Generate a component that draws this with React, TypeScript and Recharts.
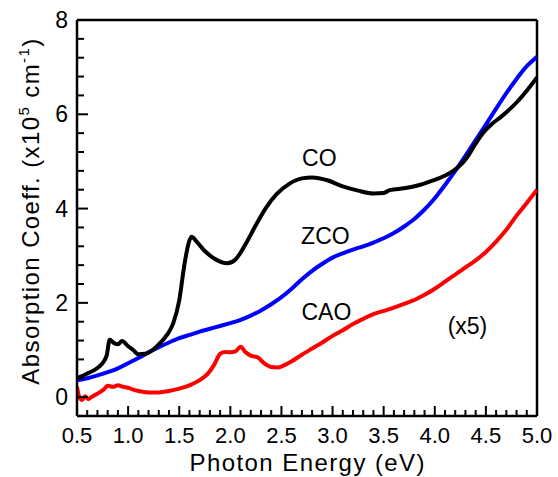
import { LineChart, Line, XAxis, YAxis, ReferenceLine, ReferenceDot } from 'recharts'

// photon energy (eV) / absorption (x10^5 cm^-1)
const coEnergy = [0.5, 0.6, 0.7, 0.76, 0.79, 0.82, 0.86, 0.9, 0.94, 1.0, 1.05, 1.1, 1.17, 1.24, 1.31, 1.38, 1.44, 1.5, 1.55, 1.59, 1.62, 1.67, 1.75, 1.85, 1.97, 2.05, 2.15, 2.25, 2.35, 2.45, 2.58, 2.7, 2.8, 2.95, 3.1, 3.25, 3.4, 3.5, 3.56, 3.7, 3.85, 3.95, 4.08, 4.18, 4.25, 4.32, 4.4, 4.47, 4.55, 4.65, 4.8, 4.9, 5.0]
const coValues = [0.4, 0.5, 0.62, 0.75, 0.88, 1.22, 1.15, 1.12, 1.19, 1.08, 1.0, 0.91, 0.92, 1.0, 1.14, 1.32, 1.56, 2.05, 2.8, 3.25, 3.4, 3.3, 3.1, 2.93, 2.84, 2.92, 3.25, 3.65, 4.02, 4.3, 4.53, 4.64, 4.66, 4.6, 4.47, 4.38, 4.32, 4.33, 4.39, 4.43, 4.5, 4.57, 4.68, 4.8, 4.92, 5.1, 5.38, 5.6, 5.78, 5.95, 6.25, 6.5, 6.78]

const zcoEnergy = [0.5, 0.6, 0.7, 0.8, 0.9, 1.0, 1.1, 1.2, 1.3, 1.4, 1.5, 1.6, 1.7, 1.8, 1.9, 2.0, 2.1, 2.2, 2.3, 2.4, 2.5, 2.6, 2.7, 2.8, 2.9, 3.0, 3.1, 3.2, 3.3, 3.4, 3.5, 3.6, 3.7, 3.8, 3.9, 4.0, 4.1, 4.2, 4.3, 4.4, 4.5, 4.6, 4.7, 4.8, 4.9, 5.0]
const zcoValues = [0.36, 0.4, 0.46, 0.53, 0.61, 0.72, 0.83, 0.95, 1.06, 1.16, 1.25, 1.32, 1.39, 1.45, 1.51, 1.57, 1.64, 1.73, 1.84, 1.97, 2.12, 2.3, 2.5, 2.68, 2.83, 2.96, 3.05, 3.13, 3.2, 3.28, 3.37, 3.48, 3.62, 3.78, 3.98, 4.22, 4.5, 4.8, 5.12, 5.45, 5.78, 6.12, 6.45, 6.75, 7.02, 7.22]

const caoEnergy = [0.5, 0.52, 0.55, 0.58, 0.61, 0.64, 0.68, 0.72, 0.76, 0.8, 0.85, 0.9, 0.95, 1.0, 1.05, 1.1, 1.2, 1.3, 1.4, 1.5, 1.6, 1.7, 1.78, 1.84, 1.9, 1.95, 2.0, 2.05, 2.1, 2.15, 2.2, 2.27, 2.33, 2.4, 2.46, 2.52, 2.6, 2.7, 2.8, 2.9, 3.0, 3.1, 3.2, 3.3, 3.4, 3.5, 3.6, 3.7, 3.8, 3.9, 4.0, 4.1, 4.2, 4.3, 4.4, 4.5, 4.6, 4.7, 4.8, 4.9, 5.0]
const caoValues = [0.22, 0.02, -0.06, 0.02, -0.04, 0.0, 0.05, 0.1, 0.16, 0.24, 0.22, 0.25, 0.22, 0.2, 0.16, 0.13, 0.1, 0.1, 0.13, 0.18, 0.25, 0.36, 0.5, 0.68, 0.92, 0.96, 0.95, 0.97, 1.07, 0.95, 0.88, 0.84, 0.72, 0.64, 0.63, 0.67, 0.76, 0.9, 1.03, 1.16, 1.3, 1.42, 1.55, 1.66, 1.76, 1.83, 1.9, 1.98, 2.06, 2.17, 2.3, 2.45, 2.6, 2.75, 2.9, 3.08, 3.3, 3.55, 3.85, 4.12, 4.4]

const xTicks = [0.5, 0.6, 0.7, 0.8, 0.9, 1.0, 1.1, 1.2, 1.3, 1.4, 1.5, 1.6, 1.7, 1.8, 1.9, 2.0, 2.1, 2.2, 2.3, 2.4, 2.5, 2.6, 2.7, 2.8, 2.9, 3.0, 3.1, 3.2, 3.3, 3.4, 3.5, 3.6, 3.7, 3.8, 3.9, 4.0, 4.1, 4.2, 4.3, 4.4, 4.5, 4.6, 4.7, 4.8, 4.9, 5.0]
const xMajor = [0.5, 1.0, 1.5, 2.0, 2.5, 3.0, 3.5, 4.0, 4.5, 5.0]
const yTicks = [-0.4, 0, 0.4, 0.8, 1.2, 1.6, 2, 2.4, 2.8, 3.2, 3.6, 4, 4.4, 4.8, 5.2, 5.6, 6, 6.4, 6.8, 7.2, 7.6, 8]
const yMajor = [0, 2, 4, 6, 8]

const zip = (xs: number[], ys: number[]) => xs.map((x, i) => ({ x, y: ys[i] }))
const coData = zip(coEnergy, coValues)
const zcoData = zip(zcoEnergy, zcoValues)
const caoData = zip(caoEnergy, caoValues)

const FONT = '"Liberation Sans", Arial, sans-serif'
const isMajor = (list: number[], v: number) => list.some(m => Math.abs(m - v) < 1e-6)

function XTick({ x, y, payload }: any) {
  const major = isMajor(xMajor, payload.value)
  return (
    <g>
      <line x1={x} y1={y} x2={x} y2={y - (major ? 10 : 6)} stroke="#000" strokeWidth={2} />
      {major && (
        <text x={x} y={y + 27} textAnchor="middle" fontSize={22} fontFamily={FONT} fill="#000">
          {payload.value.toFixed(1)}
        </text>
      )}
    </g>
  )
}

function YTick({ x, y, payload }: any) {
  const major = isMajor(yMajor, payload.value)
  return (
    <g>
      <line x1={x} y1={y} x2={x + (major ? 11 : 7)} y2={y} stroke="#000" strokeWidth={2} />
      {major && (
        <text x={x - 9} y={y + 8} textAnchor="end" fontSize={23} fontFamily={FONT} fill="#000">
          {payload.value}
        </text>
      )}
    </g>
  )
}

const curveLabel = (value: string) => ({ value, position: 'center' as const, fontSize: 23, fontFamily: FONT, fill: '#000' })

export default function App() {
  return (
    <div style={{ position: 'absolute', left: 0, top: 0, width: 558, height: 477, background: '#fff' }}>
      <LineChart width={558} height={477} margin={{ top: 20, right: 21, left: 47, bottom: 31 }}>
        <XAxis
          type="number"
          dataKey="x"
          domain={[0.5, 5]}
          ticks={xTicks}
          interval={0}
          height={30}
          tickSize={0}
          tickMargin={0}
          tickLine={false}
          axisLine={{ stroke: '#000', strokeWidth: 2.5 }}
          tick={<XTick />}
          allowDataOverflow
        />
        <YAxis
          type="number"
          domain={[-0.4, 8]}
          ticks={yTicks}
          interval={0}
          width={30}
          tickSize={0}
          tickMargin={0}
          tickLine={false}
          axisLine={{ stroke: '#000', strokeWidth: 2.5 }}
          tick={<YTick />}
          allowDataOverflow
        />
        <ReferenceLine y={8} stroke="#000" strokeWidth={2.5} />
        <ReferenceLine x={5} stroke="#000" strokeWidth={2.5} />
        <Line data={caoData} dataKey="y" type="monotone" stroke="#ff0000" strokeWidth={4} dot={false} isAnimationActive={false} />
        <Line data={zcoData} dataKey="y" type="monotone" stroke="#0000ff" strokeWidth={4} dot={false} isAnimationActive={false} />
        <Line data={coData} dataKey="y" type="monotone" stroke="#000000" strokeWidth={4} dot={false} isAnimationActive={false} />
        <ReferenceDot x={2.87} y={5.08} r={1} fill="none" stroke="none" label={curveLabel('CO')} />
        <ReferenceDot x={2.93} y={3.43} r={1} fill="none" stroke="none" label={curveLabel('ZCO')} />
        <ReferenceDot x={2.94} y={1.8} r={1} fill="none" stroke="none" label={curveLabel('CAO')} />
        <ReferenceDot x={4.32} y={1.52} r={1} fill="none" stroke="none" label={curveLabel('(x5)')} />
      </LineChart>
      <svg width={558} height={477} style={{ position: 'absolute', left: 0, top: 0, pointerEvents: 'none' }}>
        <text x={307} y={471} textAnchor="middle" fontSize={24} fontFamily={FONT} fill="#000" textLength={235} lengthAdjust="spacing">
          Photon Energy (eV)
        </text>
        <text
          transform="translate(39, 211) rotate(-90)"
          textAnchor="middle"
          fontSize={24}
          fontFamily={FONT}
          fill="#000"
          letterSpacing={1.4}
        >
          Absorption Coeff. (x10<tspan fontSize={15} dy={-10}>5</tspan>
          <tspan dy={10}> cm</tspan>
          <tspan fontSize={15} dy={-10}>-1</tspan>
          <tspan dy={10}>)</tspan>
        </text>
      </svg>
    </div>
  )
}
